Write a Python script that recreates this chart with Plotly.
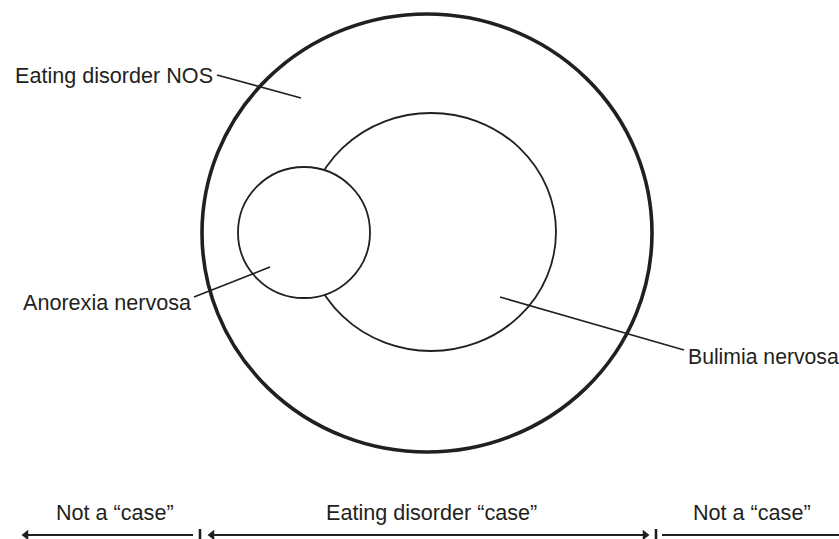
import plotly.graph_objects as go

# ---- content ----
circle_labels = ["Eating disorder NOS", "Anorexia nervosa", "Bulimia nervosa"]
bottom_labels = ["Not a \u201ccase\u201d", "Eating disorder \u201ccase\u201d", "Not a \u201ccase\u201d"]

# ---- geometry (pixel-like data coordinates, y downward) ----
outer = dict(cx=427, cy=233, rx=225, ry=219)
bulimia = dict(cx=431, cy=232, rx=125, ry=119)
anorexia = dict(cx=304, cy=232.5, rx=66, ry=65.5)

FONT = "Liberation Sans, Arial, Helvetica, sans-serif"
W, H = 839, 539
FS = 21.6

fig = go.Figure()

def ellipse(c, width, fill=None):
    return dict(type="circle", xref="x", yref="y",
                x0=c["cx"] - c["rx"], x1=c["cx"] + c["rx"],
                y0=c["cy"] - c["ry"], y1=c["cy"] + c["ry"],
                line=dict(color="#231f20", width=width),
                fillcolor=fill if fill else "rgba(0,0,0,0)", layer="above")

shapes = [
    ellipse(outer, 3.6),
    ellipse(bulimia, 1.8),
    ellipse(anorexia, 1.8, fill="white"),
]

def seg(x0, y0, x1, y1, w=1.6):
    return dict(type="line", xref="x", yref="y", x0=x0, y0=y0, x1=x1, y1=y1,
                line=dict(color="#231f20", width=w), layer="above")

# leader lines
shapes += [
    seg(217, 75, 301, 98),
    seg(194, 297, 270, 267),
    seg(500, 297, 684, 350),
]

# bottom arrows and dividers
ARROW_Y = 535
shapes += [
    seg(27, ARROW_Y, 193, ARROW_Y, 2.2),
    seg(214, ARROW_Y, 643, ARROW_Y, 2.2),
    seg(662, ARROW_Y, 845, ARROW_Y, 2.2),
    seg(200, 529, 200, 545, 2.6),
    seg(656, 529, 656, 545, 2.6),
]

fig.add_trace(go.Scatter(
    x=[26, 212, 645], y=[ARROW_Y, ARROW_Y, ARROW_Y], mode="markers",
    marker=dict(symbol=["triangle-left", "triangle-left", "triangle-right"],
                size=9, color="#231f20", line=dict(width=0)),
    hoverinfo="skip", showlegend=False))

annotations = [
    dict(x=14, y=75, text=circle_labels[0], xanchor="left", yanchor="middle", fs=FS),
    dict(x=22, y=302, text=circle_labels[1], xanchor="left", yanchor="middle", fs=FS),
    dict(x=687, y=356, text=circle_labels[2], xanchor="left", yanchor="middle", fs=21.2),
    dict(x=114.5, y=512, text=bottom_labels[0], xanchor="center", yanchor="middle", fs=FS),
    dict(x=431, y=512, text=bottom_labels[1], xanchor="center", yanchor="middle", fs=FS),
    dict(x=751.5, y=512, text=bottom_labels[2], xanchor="center", yanchor="middle", fs=FS),
]
for a in annotations:
    fs = a.pop("fs")
    a.update(xref="x", yref="y", showarrow=False, borderpad=0,
             font=dict(family=FONT, size=fs, color="#231f20"))

fig.update_layout(
    width=W, height=H,
    margin=dict(l=0, r=0, t=0, b=0),
    paper_bgcolor="white", plot_bgcolor="white",
    shapes=shapes, annotations=annotations,
    xaxis=dict(range=[0, W], visible=False, fixedrange=True),
    yaxis=dict(range=[H, 0], visible=False, fixedrange=True),
    showlegend=False,
)

fig.write_html("out.html", config={"displayModeBar": False},
               post_script="document.body.style.margin='0';document.body.style.overflow='hidden';")
